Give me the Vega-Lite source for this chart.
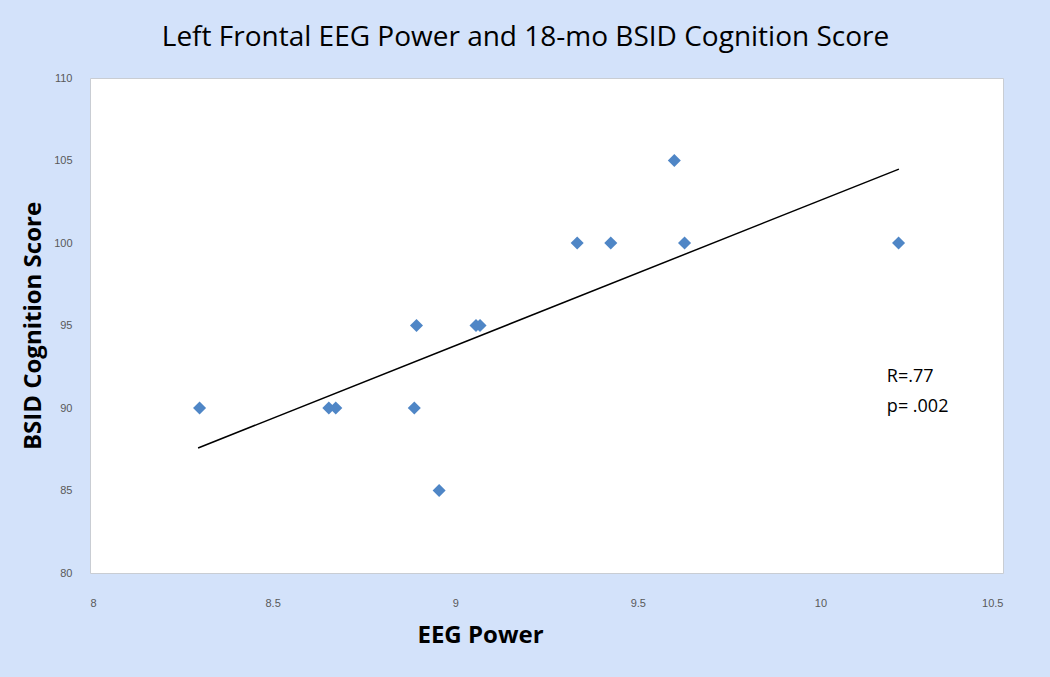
{
  "$schema": "https://vega.github.io/schema/vega-lite/v6.json",
  "width": 913,
  "height": 495,
  "autosize": {"type": "none"},
  "padding": {"left": 90, "top": 78, "right": 47, "bottom": 104},
  "background": "#d3e2fa",
  "config": {
    "view": {"fill": "#ffffff", "stroke": "#c9cdd3", "strokeWidth": 1},
    "axis": {
      "grid": false, "domain": false, "ticks": false,
      "labelFont": "Liberation Sans", "labelFontSize": 11, "labelColor": "#595959",
      "titleFont": "Open Sans", "titleFontSize": 24, "titleFontWeight": "bold", "titleColor": "#000000"
    }
  },
  "title": {
    "text": "Left Frontal EEG Power and 18-mo BSID Cognition Score",
    "font": "Open Sans", "fontSize": 28, "fontWeight": "normal", "color": "#000000",
    "anchor": "middle", "dx": -21, "offset": 26, "dy": 34, "baseline": "bottom"
  },
  "datasets": {
    "points": [
      {"eeg": 8.30, "score": 90},
      {"eeg": 8.654, "score": 90},
      {"eeg": 8.673, "score": 90},
      {"eeg": 8.888, "score": 90},
      {"eeg": 8.894, "score": 95},
      {"eeg": 8.956, "score": 85},
      {"eeg": 9.057, "score": 95},
      {"eeg": 9.068, "score": 95},
      {"eeg": 9.334, "score": 100},
      {"eeg": 9.426, "score": 100},
      {"eeg": 9.60, "score": 105},
      {"eeg": 9.628, "score": 100},
      {"eeg": 10.214, "score": 100}
    ],
    "trend": [
      {"eeg": 8.296, "score": 87.58},
      {"eeg": 10.215, "score": 104.48}
    ],
    "notes": [
      {"label": "R=.77", "eeg": 10.182, "score": 91.88},
      {"label": "p= .002", "eeg": 10.182, "score": 90.06}
    ]
  },
  "layer": [
    {
      "data": {"name": "trend"},
      "mark": {"type": "line", "color": "#000000", "strokeWidth": 1.5},
      "encoding": {
        "x": {"field": "eeg", "type": "quantitative", "scale": {"domain": [8, 10.5], "nice": false, "zero": false},
          "axis": {"title": "EEG Power", "values": [8, 8.5, 9, 9.5, 10, 10.5], "format": "~g", "labelPadding": 24,
                   "titleX": 390, "titleY": 62, "titleBaseline": "middle", "titleAnchor": null}},
        "y": {"field": "score", "type": "quantitative", "scale": {"domain": [80, 110], "nice": false, "zero": false},
          "axis": {"title": "BSID Cognition Score", "values": [80, 85, 90, 95, 100, 105, 110], "labelPadding": 18, "titlePadding": 8}}
      }
    },
    {
      "data": {"name": "points"},
      "mark": {"type": "point", "shape": "diamond", "filled": true, "color": "#4f86c6", "size": 170, "opacity": 1},
      "encoding": {
        "x": {"field": "eeg", "type": "quantitative"},
        "y": {"field": "score", "type": "quantitative"}
      }
    },
    {
      "data": {"name": "notes"},
      "mark": {"type": "text", "align": "left", "baseline": "middle", "font": "Open Sans", "fontSize": 18, "color": "#000000"},
      "encoding": {
        "x": {"field": "eeg", "type": "quantitative"},
        "y": {"field": "score", "type": "quantitative"},
        "text": {"field": "label"}
      }
    }
  ]
}
